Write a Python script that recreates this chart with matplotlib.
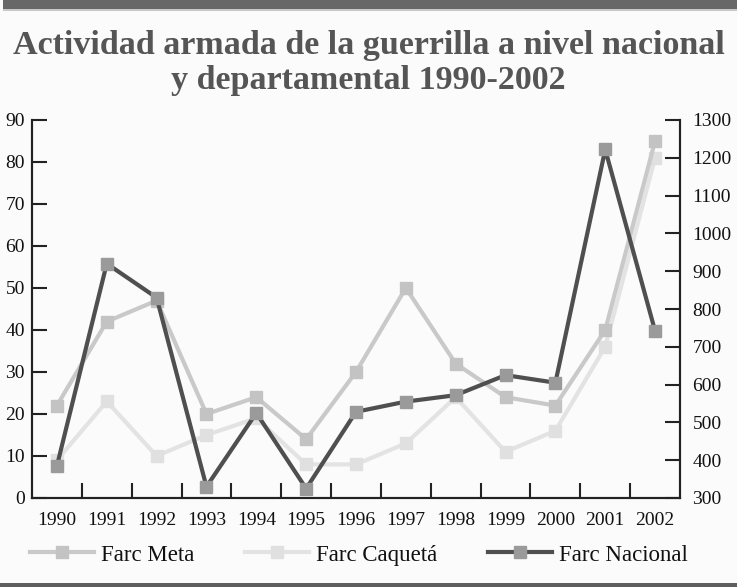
import matplotlib
matplotlib.use("Agg")
import matplotlib.pyplot as plt
from matplotlib.patches import Rectangle
import numpy as np

years = ["1990", "1991", "1992", "1993", "1994", "1995", "1996",
         "1997", "1998", "1999", "2000", "2001", "2002"]
farc_meta = [22, 42, 47, 20, 24, 14, 30, 50, 32, 24, 22, 40, 85]
farc_caqueta = [9, 23, 10, 15, 19, 8, 8, 13, 24, 11, 16, 36, 81]
farc_nacional = [385, 920, 830, 330, 525, 325, 528, 555, 572, 625, 605, 1222, 742]

left_ticks = list(range(0, 91, 10))
right_ticks = list(range(300, 1301, 100))

title = "Actividad armada de la guerrilla a nivel nacional\ny departamental 1990-2002"

W, H = 737, 587
fig = plt.figure(figsize=(W / 100, H / 100), dpi=100)
bg = "#fbfbfb"
fig.patch.set_facecolor(bg)

plt.rcParams['font.family'] = ['Liberation Serif', 'DejaVu Serif']

# decorative bands
fig.add_artist(Rectangle((3 / W, 1 - 9 / H), 1, 9 / H, transform=fig.transFigure,
                         color="#686868", lw=0))
fig.add_artist(Rectangle((3 / W, 1 - 11 / H), 1, 2 / H, transform=fig.transFigure,
                         color="#c9c9c9", lw=0))
fig.add_artist(Rectangle((0, 0), 1, 4 / H, transform=fig.transFigure,
                         color="#5e5e5e", lw=0))

left, right = 32 / W, 680 / W
bottom, top = 1 - 498 / H, 1 - 120 / H
ax = fig.add_axes([left, bottom, right - left, top - bottom])
ax.set_facecolor(bg)
ax2 = ax.twinx()

x = np.arange(len(years))

lw = 3.0
ms = 8.5
l1, = ax.plot(x, farc_meta, color="#c9c9c9", lw=lw, marker="s", ms=ms,
              mfc="#c3c3c3", mec="#c3c3c3", label="Farc Meta", zorder=3)
l2, = ax.plot(x, farc_caqueta, color="#e3e3e3", lw=lw, marker="s", ms=ms,
              mfc="#e0e0e0", mec="#e0e0e0", label="Farc Caquetá", zorder=2)
l3, = ax2.plot(x, farc_nacional, color="#4f4f4f", lw=lw, marker="s", ms=ms,
               mfc="#9a9a9a", mec="#9a9a9a", label="Farc Nacional", zorder=4)

ax.set_xlim(-0.5, len(years) - 0.5)
ax.set_ylim(0, 90)
ax2.set_ylim(300, 1300)

ax.set_yticks(left_ticks)
ax2.set_yticks(right_ticks)

ax.set_xticks(np.arange(0.5, len(years) - 1, 1.0))
ax.set_xticklabels([])
ax.set_xticks(x, minor=True)
ax.set_xticklabels(years, minor=True)

tick_fs = 14
ax.tick_params(axis="x", which="major", direction="in", length=11, width=1.5,
               color="#222222")
ax.tick_params(axis="x", which="minor", length=0, pad=10, labelsize=tick_fs,
               labelcolor="#111111")
ax.tick_params(axis="y", direction="in", length=11, width=1.5, pad=5,
               labelsize=tick_fs, color="#222222", labelcolor="#111111")
ax2.tick_params(axis="y", direction="in", length=11, width=1.5, pad=9,
                labelsize=tick_fs, color="#222222", labelcolor="#111111")

for a in (ax, ax2):
    a.spines["top"].set_visible(False)
    for s in ("left", "right", "bottom"):
        a.spines[s].set_linewidth(1.5)
        a.spines[s].set_color("#222222")

fig.text(0.5, 1 - 63 / H, title, ha="center", va="center", fontsize=24.5,
         fontweight="bold", color="#555555", linespacing=1.2)

fig.legend(handles=[l1, l2, l3], loc="center", bbox_to_anchor=(0.487, 1 - 555 / H),
           ncol=3, frameon=False, fontsize=16.5, handlelength=2.8,
           handletextpad=0.3, columnspacing=2.2, labelcolor="#111111")

fig.savefig("out.png", dpi=100, facecolor=bg)
